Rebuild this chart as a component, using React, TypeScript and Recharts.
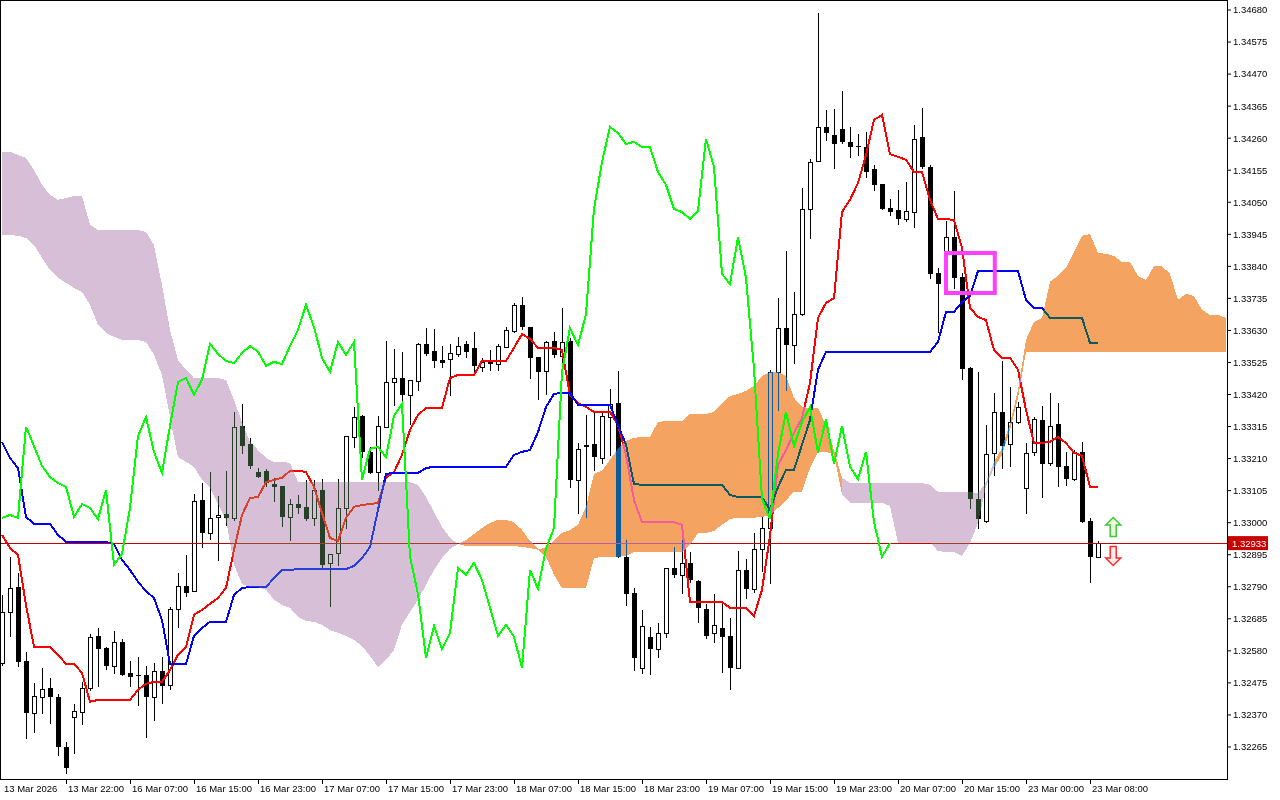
import React from 'react';
import {
  ComposedChart, Bar, Line, Area, XAxis, YAxis, CartesianGrid,
  ReferenceLine, ReferenceArea, ReferenceDot,
} from 'recharts';

// ---------- data (H1 candles, index 0 = 13 Mar 2026 14:00) ----------
const openPrices = [1.32540,1.32707,1.32789,1.32547,1.32377,1.32429,1.32458,1.32429,1.32265,1.32363,
 1.32380,1.32458,1.32629,1.32589,1.32531,1.32609,1.32508,1.32501,1.32501,1.32429,
 1.32514,1.32468,1.32717,1.32793,1.32776,1.33074,1.32966,1.33019,1.33029,1.33016,
 1.33317,1.33258,1.33166,1.33170,1.33127,1.33120,1.33019,1.33061,1.33052,1.33016,
 1.33107,1.32868,1.32901,1.33048,1.33281,1.33350,1.33232,1.33166,1.33314,1.33461,
 1.33474,1.33419,1.33464,1.33586,1.33563,1.33533,1.33537,1.33553,1.33586,1.33573,
 1.33510,1.33527,1.33520,1.33576,1.33628,1.33714,1.33641,1.33543,1.33497,1.33596,
 1.33546,1.33596,1.33140,1.33255,1.33258,1.33212,1.33346,1.33392,1.32888,1.32770,
 1.32524,1.32626,1.32586,1.32639,1.32852,1.32829,1.32868,1.32809,1.32717,1.32639,
 1.32655,1.32629,1.32524,1.32845,1.32783,1.32914,1.32983,1.33494,1.33638,1.33582,
 1.33684,1.34028,1.34185,1.34297,1.34271,1.34290,1.34248,1.34235,1.34231,1.34159,
 1.34110,1.34031,1.34025,1.33995,1.34018,1.34264,1.34166,1.33818,1.33884,1.33936,
 1.33805,1.33507,1.33078,1.33006,1.33229,1.33363,1.33258,1.33330,1.33114,1.33232,
 1.33337,1.33196,1.33324,1.33186,1.33143,1.33232,1.33006,1.32888];

const highPrices = [1.32763,1.32888,1.32835,1.32576,1.32475,1.32524,1.32491,1.32439,1.32281,1.32406,
 1.32478,1.32635,1.32655,1.32593,1.32645,1.32619,1.32547,1.32560,1.32531,1.32540,
 1.32560,1.32724,1.32835,1.32894,1.33094,1.33130,1.33166,1.33088,1.33170,1.33363,
 1.33389,1.33278,1.33179,1.33176,1.33147,1.33120,1.33078,1.33091,1.33140,1.33140,
 1.33143,1.32898,1.33143,1.33284,1.33379,1.33353,1.33248,1.33350,1.33596,1.33569,
 1.33560,1.33468,1.33589,1.33638,1.33635,1.33579,1.33586,1.33609,1.33596,1.33625,
 1.33540,1.33566,1.33586,1.33641,1.33720,1.33740,1.33641,1.33543,1.33596,1.33625,
 1.33704,1.33605,1.33261,1.33353,1.33360,1.33363,1.33438,1.33497,1.32943,1.32786,
 1.32714,1.32658,1.32671,1.32852,1.32920,1.32966,1.32904,1.32812,1.32734,1.32766,
 1.32734,1.32688,1.32907,1.32881,1.32966,1.33019,1.33501,1.33736,1.33890,1.33756,
 1.34097,1.34192,1.34670,1.34353,1.34356,1.34415,1.34297,1.34274,1.34280,1.34172,
 1.34110,1.34061,1.34090,1.34117,1.34303,1.34359,1.34172,1.33835,1.33989,1.34087,
 1.33818,1.33510,1.33494,1.33320,1.33425,1.33530,1.33445,1.33396,1.33261,1.33346,
 1.33383,1.33425,1.33392,1.33232,1.33238,1.33265,1.33016,1.32940];

const lowPrices = [1.32534,1.32629,1.32531,1.32295,1.32314,1.32377,1.32344,1.32239,1.32180,1.32245,
 1.32340,1.32452,1.32465,1.32521,1.32508,1.32501,1.32465,1.32403,1.32298,1.32354,
 1.32409,1.32455,1.32658,1.32760,1.32776,1.32920,1.32947,1.32878,1.32993,1.33009,
 1.33229,1.33179,1.33150,1.33120,1.33071,1.32989,1.32943,1.33032,1.33009,1.32993,
 1.32855,1.32727,1.32862,1.32983,1.33248,1.33215,1.33163,1.33107,1.33314,1.33386,
 1.33327,1.33324,1.33435,1.33550,1.33510,1.33510,1.33419,1.33546,1.33543,1.33497,
 1.33497,1.33501,1.33501,1.33576,1.33625,1.33635,1.33474,1.33405,1.33422,1.33543,
 1.33510,1.33117,1.33032,1.33019,1.33173,1.33196,1.33222,1.32888,1.32730,1.32517,
 1.32508,1.32504,1.32560,1.32626,1.32822,1.32770,1.32806,1.32675,1.32622,1.32609,
 1.32511,1.32455,1.32524,1.32753,1.32773,1.32842,1.32803,1.33369,1.33435,1.33523,
 1.33681,1.33933,1.34185,1.34254,1.34162,1.34244,1.34199,1.34205,1.34133,1.34090,
 1.34028,1.34008,1.33979,1.33989,1.33969,1.34162,1.33802,1.33625,1.33799,1.33769,
 1.33471,1.33048,1.32983,1.33002,1.33156,1.33179,1.33186,1.33327,1.33032,1.33222,
 1.33084,1.33189,1.33120,1.33124,1.33140,1.33002,1.32806,1.32888];

const closePrices = [1.32707,1.32786,1.32544,1.32377,1.32432,1.32455,1.32429,1.32265,1.32196,1.32383,
 1.32458,1.32626,1.32586,1.32531,1.32609,1.32501,1.32494,1.32498,1.32429,1.32514,
 1.32465,1.32717,1.32793,1.32770,1.33071,1.32966,1.33016,1.33025,1.33016,1.33314,
 1.33251,1.33186,1.33150,1.33130,1.33117,1.33019,1.33061,1.33048,1.33012,1.33107,
 1.32862,1.32898,1.33048,1.33284,1.33346,1.33232,1.33163,1.33317,1.33461,1.33474,
 1.33419,1.33468,1.33586,1.33553,1.33530,1.33523,1.33556,1.33579,1.33560,1.33514,
 1.33527,1.33520,1.33579,1.33632,1.33714,1.33641,1.33540,1.33494,1.33592,1.33550,
 1.33592,1.33140,1.33242,1.33248,1.33215,1.33350,1.33389,1.32888,1.32766,1.32557,
 1.32662,1.32586,1.32639,1.32852,1.32829,1.32868,1.32812,1.32721,1.32629,1.32665,
 1.32626,1.32524,1.32845,1.32783,1.32914,1.32983,1.33494,1.33638,1.33582,1.33684,
 1.34028,1.34182,1.34297,1.34277,1.34241,1.34248,1.34231,1.34231,1.34149,1.34107,
 1.34028,1.34018,1.33995,1.34022,1.34257,1.34166,1.33815,1.33782,1.33936,1.33802,
 1.33504,1.33078,1.33012,1.33225,1.33363,1.33251,1.33330,1.33379,1.33229,1.33340,
 1.33192,1.33317,1.33183,1.33143,1.33232,1.33002,1.32888,1.32933];

const tenkanSen = [1.32960,1.32917,1.32894,1.32730,1.32593,1.32593,1.32593,1.32567,1.32537,1.32537,
 1.32508,1.32413,1.32419,1.32419,1.32419,1.32419,1.32419,1.32452,1.32472,1.32478,
 1.32478,1.32517,1.32567,1.32593,1.32698,1.32714,1.32734,1.32753,1.32786,1.32911,
 1.33025,1.33081,1.33084,1.33133,1.33140,1.33147,1.33170,1.33170,1.33166,1.33117,
 1.33032,1.32950,1.32940,1.33016,1.33052,1.33058,1.33061,1.33065,1.33147,1.33166,
 1.33222,1.33304,1.33353,1.33376,1.33376,1.33376,1.33474,1.33484,1.33484,1.33484,
 1.33530,1.33530,1.33530,1.33530,1.33573,1.33618,1.33602,1.33573,1.33573,1.33573,
 1.33566,1.33419,1.33392,1.33379,1.33363,1.33363,1.33363,1.33320,1.33222,1.33074,
 1.33002,1.33002,1.33002,1.33002,1.33002,1.32993,1.32740,1.32740,1.32740,1.32740,
 1.32740,1.32721,1.32721,1.32721,1.32694,1.32780,1.32957,1.33189,1.33238,1.33294,
 1.33343,1.33458,1.33671,1.33720,1.33736,1.34018,1.34058,1.34113,1.34205,1.34320,
 1.34336,1.34208,1.34199,1.34189,1.34149,1.34149,1.34058,1.33995,1.33995,1.33992,
 1.33900,1.33704,1.33674,1.33664,1.33566,1.33540,1.33540,1.33501,1.33369,1.33261,
 1.33261,1.33265,1.33281,1.33261,1.33229,1.33219,1.33117,1.33117];

const kijunSen = [1.33265,1.33212,1.33179,1.33019,1.32996,1.32996,1.32996,1.32960,1.32937,1.32937,
 1.32937,1.32937,1.32937,1.32937,1.32930,1.32878,1.32845,1.32806,1.32776,1.32753,
 1.32681,1.32537,1.32537,1.32537,1.32629,1.32655,1.32675,1.32675,1.32675,1.32763,
 1.32786,1.32789,1.32789,1.32789,1.32819,1.32845,1.32845,1.32848,1.32848,1.32848,
 1.32848,1.32848,1.32848,1.32848,1.32858,1.32884,1.32920,1.33042,1.33160,1.33163,
 1.33163,1.33163,1.33163,1.33179,1.33183,1.33183,1.33183,1.33183,1.33183,1.33183,
 1.33183,1.33183,1.33183,1.33183,1.33222,1.33232,1.33238,1.33297,1.33379,1.33422,
 1.33425,1.33425,1.33386,1.33386,1.33386,1.33386,1.33386,1.33320,1.33255,1.33127,
 1.33124,1.33124,1.33124,1.33124,1.33124,1.33124,1.33124,1.33124,1.33124,1.33124,
 1.33124,1.33091,1.33084,1.33084,1.33084,1.33084,1.33042,1.33117,1.33173,1.33173,
 1.33255,1.33337,1.33501,1.33560,1.33560,1.33560,1.33560,1.33560,1.33560,1.33560,
 1.33560,1.33560,1.33560,1.33560,1.33560,1.33560,1.33560,1.33592,1.33691,1.33691,
 1.33723,1.33743,1.33825,1.33825,1.33825,1.33825,1.33825,1.33825,1.33730,1.33704,
 1.33704,1.33671,1.33671,1.33671,1.33671,1.33671,1.33589,1.33589];

// Senkou spans, already plotted 26 bars ahead (index = chart bar position)
const senkouSpanA = [1.33943,1.33943,1.33940,1.33933,1.33910,1.33868,1.33828,1.33802,1.33786,1.33769,
 1.33756,1.33714,1.33648,1.33622,1.33609,1.33599,1.33599,1.33599,1.33592,1.33550,
 1.33484,1.33346,1.33215,1.33199,1.33183,1.33140,1.33114,1.33061,1.33009,1.32862,
 1.32799,1.32789,1.32789,1.32780,1.32747,1.32730,1.32721,1.32691,1.32678,1.32675,
 1.32665,1.32648,1.32639,1.32629,1.32616,1.32596,1.32563,1.32527,1.32550,1.32583,
 1.32665,1.32707,1.32747,1.32796,1.32845,1.32884,1.32914,1.32930,1.32943,1.32963,
 1.32983,1.32999,1.33009,1.33009,1.33002,1.32976,1.32940,1.32914,1.32917,1.32943,
 1.32966,1.32976,1.32993,1.33052,1.33160,1.33170,1.33206,1.33242,1.33268,1.33278,
 1.33281,1.33281,1.33330,1.33333,1.33333,1.33333,1.33356,1.33356,1.33356,1.33363,
 1.33389,1.33415,1.33422,1.33432,1.33448,1.33481,1.33494,1.33494,1.33481,1.33409,
 1.33379,1.33376,1.33376,1.33320,1.33238,1.33091,1.33065,1.33065,1.33065,1.33065,
 1.33065,1.33055,1.32934,1.32934,1.32934,1.32934,1.32934,1.32907,1.32904,1.32904,
 1.32891,1.32934,1.32999,1.33120,1.33199,1.33245,1.33324,1.33435,1.33599,1.33658,
 1.33671,1.33789,1.33809,1.33835,1.33887,1.33940,1.33946,1.33884,1.33881,1.33874,
 1.33854,1.33854,1.33809,1.33795,1.33841,1.33841,1.33815,1.33730,1.33750,1.33743,
 1.33697,1.33681,1.33681,1.33671];

const senkouSpanB = [1.34215,1.34215,1.34205,1.34195,1.34156,1.34107,1.34074,1.34058,1.34064,1.34071,
 1.34071,1.33976,1.33959,1.33959,1.33959,1.33959,1.33959,1.33959,1.33953,1.33910,
 1.33779,1.33632,1.33533,1.33501,1.33474,1.33474,1.33474,1.33474,1.33468,1.33402,
 1.33330,1.33265,1.33238,1.33212,1.33199,1.33199,1.33196,1.33133,1.33133,1.33133,
 1.33133,1.33133,1.33133,1.33133,1.33133,1.33133,1.33133,1.33133,1.33133,1.33133,
 1.33133,1.33133,1.33124,1.33084,1.33035,1.32986,1.32950,1.32930,1.32924,1.32924,
 1.32924,1.32924,1.32924,1.32924,1.32924,1.32920,1.32917,1.32911,1.32888,1.32829,
 1.32786,1.32786,1.32786,1.32786,1.32884,1.32888,1.32888,1.32888,1.32891,1.32904,
 1.32904,1.32904,1.32904,1.32904,1.32904,1.32904,1.32927,1.32966,1.32966,1.32973,
 1.32993,1.33012,1.33016,1.33016,1.33016,1.33019,1.33025,1.33048,1.33074,1.33101,
 1.33101,1.33179,1.33232,1.33232,1.33225,1.33147,1.33130,1.33130,1.33130,1.33130,
 1.33130,1.33130,1.33130,1.33130,1.33130,1.33130,1.33124,1.33101,1.33101,1.33101,
 1.33101,1.33101,1.33097,1.33133,1.33179,1.33222,1.33304,1.33409,1.33560,1.33560,
 1.33560,1.33560,1.33560,1.33560,1.33560,1.33560,1.33560,1.33560,1.33560,1.33560,
 1.33560,1.33560,1.33560,1.33560,1.33560,1.33560,1.33560,1.33560,1.33560,1.33560,
 1.33560,1.33560,1.33560,1.33560];

const CHIKOU_SHIFT = 26;

const timeTickIndex = [0, 8, 16, 24, 32, 40, 48, 56, 64, 72, 80, 88, 96, 104, 112, 120, 128, 136];
const timeTickLabels = ['13 Mar 2026', '13 Mar 22:00', '16 Mar 07:00', '16 Mar 15:00', '16 Mar 23:00',
  '17 Mar 07:00', '17 Mar 15:00', '17 Mar 23:00', '18 Mar 07:00', '18 Mar 15:00', '18 Mar 23:00',
  '19 Mar 07:00', '19 Mar 15:00', '19 Mar 23:00', '20 Mar 07:00', '20 Mar 15:00', '23 Mar 00:00', '23 Mar 08:00'];

const priceTicks = [1.32265, 1.32370, 1.32475, 1.32580, 1.32685, 1.32790, 1.32895, 1.33000,
  1.33105, 1.33210, 1.33315, 1.33420, 1.33525, 1.33630, 1.33735, 1.33840, 1.33945, 1.34050,
  1.34155, 1.34260, 1.34365, 1.34470, 1.34575, 1.34680];

const currentPrice = 1.32933;
const highlightBox = { fromBar: 118, toBar: 124.1, priceLow: 1.33753, priceHigh: 1.33884 };
const signalArrows = [
  { bar: 138.9, price: 1.32986, dir: 'up' },
  { bar: 138.9, price: 1.32891, dir: 'down' },
];

// ---------- chart rows ----------
const BAR_COUNT = closePrices.length;
const rows = senkouSpanA.map((a, k) => {
  const b = senkouSpanB[k];
  const row: any = { k };
  if (k < BAR_COUNT) {
    row.open = openPrices[k];
    row.high = highPrices[k];
    row.low = lowPrices[k];
    row.close = closePrices[k];
    row.tenkan = tenkanSen[k];
    row.kijun = kijunSen[k];
  }
  if (k + CHIKOU_SHIFT < BAR_COUNT) row.chikou = closePrices[k + CHIKOU_SHIFT];
  const up = a >= b;
  const prevUp = k > 0 ? senkouSpanA[k - 1] >= senkouSpanB[k - 1] : up;
  const range = [Math.min(a, b), Math.max(a, b)];
  row.kumoUp = up || prevUp ? range : null;
  row.kumoDown = !up || !prevUp ? range : null;
  return row;
});

const FONT = "'Liberation Sans', Arial, sans-serif";

function renderCandle(props: any) {
  const { x, y, width, height, payload } = props;
  if (!payload || payload.open == null || ![x, y, width, height].every((v) => Number.isFinite(v))) return null;
  const cx = Math.round(x + width / 2);
  const yTop = Math.min(y, y + height);
  const hPx = Math.abs(height);
  const span = payload.high - payload.low;
  const py = (v: number) => (span > 0 ? yTop + ((payload.high - v) / span) * hPx : yTop);
  const bull = payload.close >= payload.open;
  const t = Math.round(py(Math.max(payload.open, payload.close)));
  const b = Math.round(py(Math.min(payload.open, payload.close)));
  const wt = Math.round(yTop);
  const wb = Math.round(yTop + hPx);
  return (
    <g shapeRendering="crispEdges">
      <line x1={cx + 0.5} x2={cx + 0.5} y1={wt} y2={wb + 1} stroke="#000" strokeWidth={1} />
      {bull ? (
        <rect x={cx - 1.5} y={t + 0.5} width={4} height={Math.max(b - t, 1)} fill="#fff" stroke="#000" strokeWidth={1} />
      ) : (
        <rect x={cx - 2} y={t} width={5} height={Math.max(b - t, 1)} fill="#000" />
      )}
    </g>
  );
}

const TimeTick = (props: any) => {
  const { x, y, payload } = props;
  const i = timeTickIndex.indexOf(payload.value);
  const label = i >= 0 ? timeTickLabels[i] : '';
  return (
    <g>
      {payload.value !== 0 && <line x1={x + 0.5} x2={x + 0.5} y1={y} y2={y + 5} stroke="#000" strokeWidth={1} />}
      <text x={x + 2} y={y + 13} fontSize={9.5} fontFamily={FONT} fill="#000">{label}</text>
    </g>
  );
};

const renderArrow = (dir: string) => (p: any) => {
  const { cx, cy } = p;
  if (!Number.isFinite(cx) || !Number.isFinite(cy)) return null;
  const s = dir === 'up' ? 1 : -1;
  const pts = [[0, -9.5], [7.5, -2], [3, -2], [3, 9.5], [-3, 9.5], [-3, -2], [-7.5, -2]]
    .map(([dx, dy]) => `${cx + dx},${cy + dy * s}`).join(' ');
  return (
    <polygon points={pts} fill={dir === 'up' ? '#eefbd8' : '#ffeef0'}
      stroke={dir === 'up' ? '#3cc83c' : '#ff2a2a'} strokeWidth={1.5} />
  );
};

const PriceTag = (p: any) => {
  const vb = p.viewBox || {};
  const yy = vb.y;
  const xx = (vb.x || 0) + (vb.width || 0);
  if (!Number.isFinite(yy)) return null;
  return (
    <g>
      <rect x={xx + 1} y={yy - 7} width={40} height={14} fill="#c80000" />
      <text x={xx + 5} y={yy + 3.5} fill="#fff" fontSize={9.5} fontFamily={FONT}>{currentPrice.toFixed(5)}</text>
    </g>
  );
};

const CSS = 'body{margin:0;background:#fff}.kumo{mix-blend-mode:difference}' +
  '.recharts-line-curve,.recharts-area-area,.recharts-reference-line-line{shape-rendering:crispEdges}';

export default function App() {
  return (
    <div style={{ position: 'relative', width: 1280, height: 800, background: '#fff' }}>
      <style>{CSS}</style>
      <ComposedChart width={1280} height={800} data={rows} margin={{ top: 0, right: 0, bottom: 0, left: 0 }}>
        <CartesianGrid horizontal={false} vertical={false} fill="#ffffff" />
        <XAxis dataKey="k" type="number" domain={[-0.25, 153.125]} allowDataOverflow ticks={timeTickIndex}
          interval={0} tick={<TimeTick />} tickLine={false} axisLine={false} height={21} tickSize={0} tickMargin={0} />
        <YAxis type="number" orientation="right" domain={[1.3216, 1.347128]} allowDataOverflow ticks={priceTicks}
          interval={0} width={53} axisLine={false} tickLine={{ stroke: '#000' }} tickSize={4} tickMargin={2}
          tick={{ fontSize: 9.5, fill: '#000', fontFamily: FONT }} tickFormatter={(v: number) => v.toFixed(5)} />
        <Bar dataKey={(d: any) => (d.high == null ? null : [d.low, d.high])} barSize={5} shape={renderCandle}
          isAnimationActive={false} zIndex={200} />
        <Line dataKey="tenkan" type="linear" stroke="#ff0000" strokeWidth={2} dot={false} activeDot={false}
          isAnimationActive={false} zIndex={210} />
        <Line dataKey="kijun" type="linear" stroke="#0000ff" strokeWidth={2} dot={false} activeDot={false}
          isAnimationActive={false} zIndex={210} />
        <ReferenceLine y={currentPrice} stroke="#c80000" strokeWidth={1} label={PriceTag} zIndex={220} />
        <Area dataKey="kumoDown" type="linear" className="kumo" fill="#274027" fillOpacity={1} stroke="none"
          dot={false} activeDot={false} isAnimationActive={false} zIndex={300} />
        <Area dataKey="kumoUp" type="linear" className="kumo" fill="#0b5b9f" fillOpacity={1} stroke="none"
          dot={false} activeDot={false} isAnimationActive={false} zIndex={300} />
        <Line dataKey="chikou" type="linear" stroke="#00ff00" strokeWidth={2} dot={false} activeDot={false}
          isAnimationActive={false} zIndex={400} />
        <ReferenceArea x1={highlightBox.fromBar} x2={highlightBox.toBar} y1={highlightBox.priceLow}
          y2={highlightBox.priceHigh} fill="none" fillOpacity={0} stroke="#ff40ff" strokeWidth={4} zIndex={450} />
        {signalArrows.map((a, i) => (
          <ReferenceDot key={i} x={a.bar} y={a.price} r={8} shape={renderArrow(a.dir)} zIndex={460} />
        ))}
      </ComposedChart>
      <div style={{ position: 'absolute', left: 0, top: 0, width: 1228, height: 780, border: '1px solid #000',
        boxSizing: 'border-box', pointerEvents: 'none' }} />
    </div>
  );
}
